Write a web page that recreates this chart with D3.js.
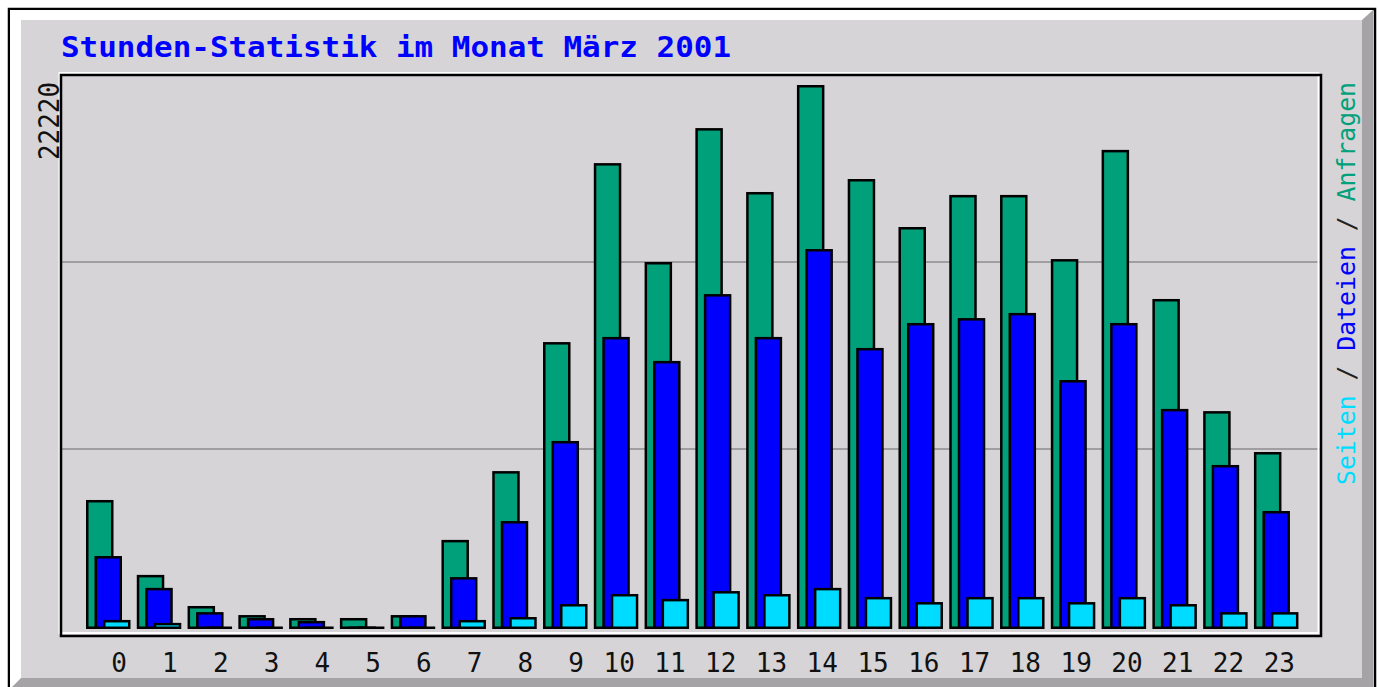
<!DOCTYPE html>
<html>
<head>
<meta charset="utf-8">
<script src="https://cdn.jsdelivr.net/npm/d3@7"></script>
<style>
  body { margin: 0; background: #fff; }
  text { font-family: "DejaVu Sans Mono", monospace; }
</style>
</head>
<body>
<div id="chart"></div>
<script>
// Stunden-Statistik (webalizer style)
const hours = ['0', '1', '2', '3', '4', '5', '6', '7', '8', '9', '10', '11',
               '12', '13', '14', '15', '16', '17', '18', '19', '20', '21', '22', '23']
const anfragen = [5270, 2210, 940, 570, 450, 450, 570, 3640, 6450, 11720, 19030, 14990,
                  20460, 17850, 22220, 18380, 16420, 17730, 17730, 15110, 19570, 13480, 8900, 7230]
const dateien = [2980, 1680, 690, 450, 330, 80, 570, 2120, 4410, 7680, 11930, 10950,
                 13680, 11930, 15520, 11480, 12500, 12700, 12910, 10170, 12500, 8990, 6700, 4820]
const seiten = [370, 250, 80, 80, 80, 80, 80, 370, 490, 1020, 1430, 1230,
                1550, 1430, 1680, 1310, 1100, 1310, 1310, 1100, 1310, 1020, 690, 690]
const maxValue = 22220
const title = 'Stunden-Statistik im Monat März 2001'
const legend = [
    { text: 'Seiten', color: '#00dcff' },
    { text: ' / ', color: '#222' },
    { text: 'Dateien', color: '#0000ff' },
    { text: ' / ', color: '#222' },
    { text: 'Anfragen', color: '#00a07a' }
]

const width = 1381
const height = 687
const frame = { left: 61, top: 75, right: 1321, bottom: 636 }
const base = 629
const barW = 27.5
const sw = 2.5

const svg = d3.select('#chart')
            .append('svg')
            .attr('width', width)
            .attr('height', height)

// outer bevelled panel
svg.append('rect')
   .attr('x', 9).attr('y', 9)
   .attr('width', 1366).attr('height', 700)
   .attr('fill', '#fff')
   .attr('stroke', '#000')
   .attr('stroke-width', 2.5)

svg.append('polygon')
   .attr('points', '10,10 1373,10 1373,700 10,700')
   .attr('fill', '#a5a3a5')
svg.append('polygon')
   .attr('points', '10,10 1373,10 1362,20 21,20 21,678 10,689')
   .attr('fill', '#fff')
svg.append('rect')
   .attr('x', 21).attr('y', 20)
   .attr('width', 1341).attr('height', 658)
   .attr('fill', '#d6d4d6')

// title
svg.append('text')
   .attr('x', 61)
   .attr('y', 57)
   .attr('fill', '#0000ff')
   .attr('font-size', 29)
   .attr('font-weight', 'bold')
   .attr('textLength', 670)
   .attr('lengthAdjust', 'spacingAndGlyphs')
   .text(title)

let x = d3.scaleBand()
          .domain(hours)
          .range([86, 86 + 24 * 50.78])

let y = d3.scaleLinear()
          .domain([0, maxValue])
          .range([base, 85])

// grid lines split the frame in thirds
let gy = d3.scaleLinear()
           .domain([0, 3])
           .range([frame.bottom, frame.top])

svg.append('g')
   .selectAll('line')
   .data([1, 2])
   .enter()
   .append('line')
   .attr('x1', frame.left)
   .attr('x2', frame.right)
   .attr('y1', d => gy(d))
   .attr('y2', d => gy(d))
   .attr('stroke', '#a09ea0')
   .attr('stroke-width', 2)

// plot frame: white edge outside top/left, black edge outside bottom/right
svg.append('rect')
   .attr('x', 59.5).attr('y', 73)
   .attr('width', 1318.5 - 59.5).attr('height', 633 - 73)
   .attr('fill', 'none')
   .attr('stroke', '#fff')
   .attr('stroke-width', 2)
svg.append('rect')
   .attr('x', frame.left).attr('y', frame.top)
   .attr('width', frame.right - frame.left).attr('height', frame.bottom - frame.top)
   .attr('fill', 'none')
   .attr('stroke', '#000')
   .attr('stroke-width', 2.5)

const series = [
    { values: anfragen, color: '#00a07a', offset: 0 },
    { values: dateien, color: '#0000ff', offset: 8.5 },
    { values: seiten, color: '#00dcff', offset: 17 }
]

series.forEach(s => {
    svg.append('g')
       .selectAll('rect')
       .data(s.values)
       .enter()
       .append('rect')
       .attr('x', (_, i) => x(hours[i]) + s.offset + sw / 2)
       .attr('y', d => Math.min(y(d), base - sw) + sw / 2)
       .attr('width', barW - sw)
       .attr('height', d => Math.max(base - y(d) - sw, 0.01))
       .attr('fill', s.color)
       .attr('stroke', '#000')
       .attr('stroke-width', sw)
})

// hour labels
svg.append('g')
   .selectAll('text')
   .data(hours)
   .enter()
   .append('text')
   .attr('x', d => x(d) + 41)
   .attr('y', 672)
   .attr('text-anchor', 'end')
   .attr('font-size', 26)
   .attr('fill', '#111')
   .text(d => d)

// max value on the left
svg.append('text')
   .attr('transform', 'translate(59, 82) rotate(-90)')
   .attr('text-anchor', 'end')
   .attr('font-size', 29)
   .attr('fill', '#111')
   .attr('textLength', 78)
   .attr('lengthAdjust', 'spacingAndGlyphs')
   .text(maxValue)

// legend on the right
const lg = svg.append('text')
   .attr('transform', 'translate(1355, 485) rotate(-90)')
   .attr('font-size', 25)
   .attr('textLength', 403)
   .attr('lengthAdjust', 'spacingAndGlyphs')

lg.selectAll('tspan')
  .data(legend)
  .enter()
  .append('tspan')
  .attr('fill', d => d.color)
  .text(d => d.text)
</script>
</body>
</html>
